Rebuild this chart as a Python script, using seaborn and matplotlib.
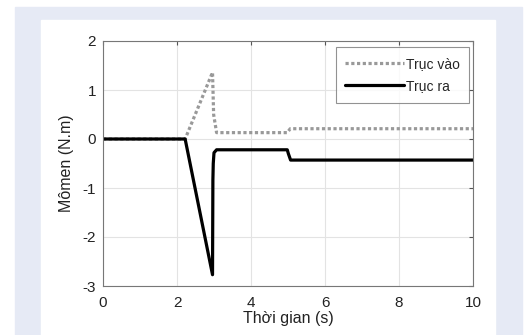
import numpy as np
import pandas as pd
import seaborn as sns
import matplotlib
import matplotlib.pyplot as plt
from matplotlib.patches import Rectangle
matplotlib.use('Agg')

# du lieu doc tu hinh
t_vao = [0, 2.22, 2.96, 2.99, 3.07, 4.98, 5.06, 10]
m_vao = [0, 0.0, 1.36, 0.5, 0.13, 0.13, 0.21, 0.21]
t_ra = [0, 2.22, 2.96, 2.97, 2.98, 3.0, 3.07, 4.98, 5.01, 5.07, 10]
m_ra = [0, 0.0, -2.77, -0.84, -0.5, -0.28, -0.22, -0.22, -0.3, -0.43, -0.43]

sns.set_style('white')
plt.rcParams['font.family'] = ['Liberation Sans', 'DejaVu Sans']
plt.rcParams['axes.unicode_minus'] = False

df_vao = pd.DataFrame({'t': t_vao, 'm': m_vao})
df_ra = pd.DataFrame({'t': t_ra, 'm': m_ra})

fig = plt.figure(figsize=(5.25, 3.35), dpi=100)
# nen xanh nhat + khung trang
fig.patches.append(Rectangle((15 / 525, 0), (522 - 15) / 525, 1 - 7 / 335,
                             transform=fig.transFigure, color='#e6eaf5', zorder=-2))
fig.patches.append(Rectangle((41 / 525, 0), (495 - 41) / 525, 1 - 20 / 335,
                             transform=fig.transFigure, color='white', zorder=-1))
fig.patch.set_facecolor('white')

ax = fig.add_axes([103 / 525, 1 - 286 / 335, (473 - 103) / 525, (286 - 41) / 335])
sns.lineplot(data=df_vao, x='t', y='m', ax=ax, color='#999999', lw=2.3,
             linestyle=(0, (1, 0.8)), label='Trục vào', sort=False)
sns.lineplot(data=df_ra, x='t', y='m', ax=ax, color='black', lw=2.3,
             label='Trục ra', sort=False)

ax.set_xlim(0, 10)
ax.set_ylim(-3, 2)
ax.set_xticks(range(0, 11, 2))
ax.set_yticks(range(-3, 3))
ax.grid(True, color='#e3e3e3', lw=0.8)
ax.tick_params(direction='in', length=3, color='#555555', labelsize=11,
               labelcolor='#222222', top=True, right=True)
ax.tick_params(axis='x', pad=7)
ax.tick_params(axis='y', pad=5)
for s in ax.spines.values():
    s.set_color('#777777')
    s.set_linewidth(0.8)
ax.set_xlabel('Thời gian (s)', fontsize=11.5, color='#222222', labelpad=1)
ax.set_ylabel('Mômen (N.m)', fontsize=11.5, color='#222222', labelpad=6)

leg = ax.legend(loc='upper right', bbox_to_anchor=(0.99, 0.975), fontsize=10,
                frameon=True, fancybox=False, handlelength=4.2, handletextpad=0.15,
                borderpad=0.7, labelspacing=0.6, borderaxespad=0)
leg.get_frame().set_edgecolor('#777777')
leg.get_frame().set_linewidth(0.8)

fig.savefig('out.png', dpi=100)
